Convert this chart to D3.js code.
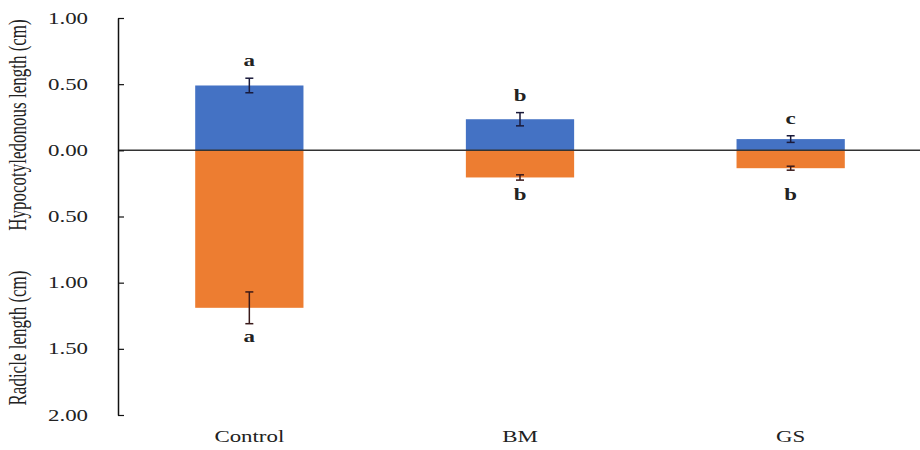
<!DOCTYPE html>
<html>
<head>
<meta charset="utf-8">
<script src="https://cdn.jsdelivr.net/npm/d3@7/dist/d3.min.js"></script>
<style>
  html, body { margin: 0; padding: 0; background: #fff; }
  svg text { font-family: "Liberation Serif", "Times New Roman", "DejaVu Serif", serif !important; }
</style>
</head>
<body>
<svg id="chart" width="920" height="450"></svg>
<script>
const categories = ["Control", "BM", "GS"];
const hypocotyl = [0.49, 0.235, 0.085];
const hypocotylErr = [0.055, 0.05, 0.025];
const radicle = [1.19, 0.205, 0.135];
const radicleErr = [0.12, 0.02, 0.015];
const hypocotylLetters = ["a", "b", "c"];
const radicleLetters = ["a", "b", "b"];
const yTicks = [1, 0.5, 0, -0.5, -1, -1.5, -2];
const yTickLabels = ["1.00", "0.50", "0.00", "0.50", "1.00", "1.50", "2.00"];

const svg = d3.select("#chart");
const axisX = 118;
const SX = 1.43; // horizontal stretch of the glyphs in the reference

const x = d3.scaleBand().domain(categories).range([114, 926])
  .paddingInner(0.6).paddingOuter(0.3);
const y = d3.scaleLinear().domain([-2, 1]).range([415, 18]);

const blue = "#4472C4", orange = "#ED7D31";

// bars
const g = svg.append("g");
g.selectAll("rect.hyp").data(categories).join("rect")
  .attr("class", "hyp")
  .attr("x", d => x(d)).attr("width", x.bandwidth())
  .attr("y", (d, i) => y(hypocotyl[i]))
  .attr("height", (d, i) => y(0) - y(hypocotyl[i]))
  .attr("fill", blue);
g.selectAll("rect.rad").data(categories).join("rect")
  .attr("class", "rad")
  .attr("x", d => x(d)).attr("width", x.bandwidth())
  .attr("y", y(0))
  .attr("height", (d, i) => y(-radicle[i]) - y(0))
  .attr("fill", orange);

function label(px, py, txt, size, bold) {
  return svg.append("text")
    .attr("transform", `translate(${px},${py}) scale(${SX},1)`)
    .attr("text-anchor", "middle").attr("font-size", size)
    .attr("font-weight", bold ? "bold" : "normal")
    .attr("fill", "#222").text(txt);
}

// error bars
function errBar(cx, v, e, color) {
  const y1 = y(v + e), y2 = y(v - e);
  g.append("line").attr("x1", cx).attr("x2", cx).attr("y1", y1).attr("y2", y2)
    .attr("stroke", color).attr("stroke-width", 1.5);
  [y1, y2].forEach(yy => g.append("line").attr("x1", cx - 4).attr("x2", cx + 4)
    .attr("y1", yy).attr("y2", yy).attr("stroke", color).attr("stroke-width", 1.5));
}
categories.forEach((c, i) => {
  const cx = x(c) + x.bandwidth() / 2;
  errBar(cx, hypocotyl[i], hypocotylErr[i], "#1a1a3a");
  errBar(cx, -radicle[i], radicleErr[i], "#3a1a1a");
  label(cx, Math.min(y(hypocotyl[i] + hypocotylErr[i]) - 12, y(0) - 26),
    hypocotylLetters[i], 16, true);
  label(cx, Math.max(y(-radicle[i] - radicleErr[i]) + 18, y(0) + 50),
    radicleLetters[i], 16, true);
});

// zero line
svg.append("line").attr("x1", axisX).attr("x2", 920)
  .attr("y1", y(0)).attr("y2", y(0))
  .attr("stroke", "#333").attr("stroke-width", 1.5);

// y axis
const yAxis = d3.axisLeft(y).tickValues(yTicks)
  .tickFormat((d, i) => yTickLabels[i])
  .tickSizeInner(-6).tickSizeOuter(0).tickPadding(30);
const ya = svg.append("g").attr("transform", `translate(${axisX},0)`).call(yAxis);
ya.select(".domain").attr("stroke", "#111").attr("stroke-width", 1.5);
ya.selectAll(".tick line").attr("stroke", "#111").attr("stroke-width", 1.2);
ya.selectAll(".tick text").attr("font-size", 16).attr("fill", "#222")
  .attr("x", -30 / SX).attr("transform", `scale(${SX},1)`);

// x category labels
categories.forEach(c => label(x(c) + x.bandwidth() / 2, 442, c, 16, false));

// y titles
svg.append("text").attr("transform", `translate(26,125) scale(${SX},1) rotate(-90)`)
  .attr("text-anchor", "middle").attr("font-size", 17).attr("fill", "#222")
  .text("Hypocotyledonous length (cm)");
svg.append("text").attr("transform", `translate(26,338) scale(${SX},1) rotate(-90)`)
  .attr("text-anchor", "middle").attr("font-size", 17).attr("fill", "#222")
  .text("Radicle length (cm)");
</script>
</body>
</html>
